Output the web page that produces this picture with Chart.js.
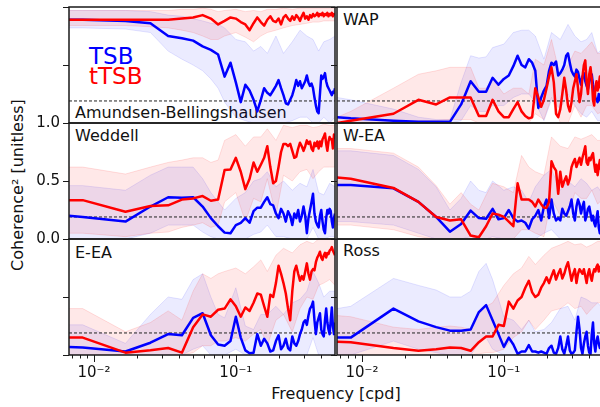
<!DOCTYPE html>
<html>
<head>
<meta charset="utf-8">
<script src="https://cdn.jsdelivr.net/npm/chart.js@4.4.0/dist/chart.umd.min.js"></script>
<style>
  body { margin: 0; width: 600px; height: 407px; overflow: hidden; background: #fff; position: relative; font-family: "DejaVu Sans", sans-serif; }
  canvas { position: absolute; }
  .lbl { position: absolute; font-size: 16px; line-height: 1; color: #111; white-space: nowrap; }
  .leg { position: absolute; font-size: 23px; line-height: 1; white-space: nowrap; }
</style>
</head>
<body>

<div class="leg" style="left:89px; top:45px; color:#0000ff;">TSB</div>
<div class="leg" style="left:89px; top:65px; color:#ff0000;">tTSB</div>

<div class="lbl" style="left:75px; top:105px;">Amundsen-Bellingshausen</div>
<div class="lbl" style="left:343px; top:12px;">WAP</div>
<div class="lbl" style="left:75px; top:128px;">Weddell</div>
<div class="lbl" style="left:343px; top:128px;">W-EA</div>
<div class="lbl" style="left:75px; top:245px;">E-EA</div>
<div class="lbl" style="left:343px; top:243px;">Ross</div>

<div class="lbl" style="left:18px; top:185px; transform:translate(-50%,-50%) rotate(-90deg);">Coherence² [unitless]</div>
<div class="lbl" style="left:336px; top:386px; transform:translateX(-50%);">Frequency [cpd]</div>

<script>
// frequency grid of the lines and of the shaded bands (cpd)
const freq = [0.00667, 0.00833, 0.01667, 0.025, 0.03333, 0.04167, 0.05, 0.05833, 0.06667, 0.075, 0.08333,
  0.09167, 0.1, 0.10833, 0.11667, 0.125, 0.13333, 0.14167, 0.15, 0.15833, 0.16667,
  0.175, 0.18333, 0.19167, 0.2, 0.20833, 0.21667, 0.225, 0.23333, 0.24167, 0.25,
  0.25833, 0.26667, 0.275, 0.28333, 0.29167, 0.3, 0.30833, 0.31667, 0.325, 0.33333,
  0.34167, 0.35, 0.35833, 0.36667, 0.375, 0.38333, 0.39167, 0.4, 0.40833, 0.41667,
  0.425, 0.43333, 0.44167, 0.45, 0.45833, 0.46667, 0.475, 0.48333, 0.49167, 0.5];
const bandFreq = [0.00667, 0.00833, 0.01667, 0.025, 0.03333, 0.04167, 0.05, 0.05833, 0.06667, 0.075,
  0.08333, 0.1, 0.11667, 0.13333, 0.15, 0.16667, 0.19167, 0.21667, 0.25, 0.28333,
  0.31667, 0.35, 0.38333, 0.41667, 0.45833, 0.5];

const xMin = 1 / 150;
const xMax = 0.5;
const sigLevel = 0.19;
const yTicks = [0, 0.5, 1];
const xMajor = [0.01, 0.1];
const xMajorLabels = ["10⁻²", "10⁻¹"];
const xMinor = [0.007, 0.008, 0.009, 0.02, 0.03, 0.04, 0.05, 0.06, 0.07, 0.08, 0.09, 0.2, 0.3, 0.4];

// Amundsen-Bellingshausen
const abTSB = [0.89, 0.89, 0.88, 0.86, 0.75, 0.73, 0.71, 0.66, 0.63, 0.59, 0.40,
  0.52, 0.35, 0.18, 0.33, 0.28, 0.20, 0.10, 0.20, 0.30, 0.26,
  0.24, 0.28, 0.32, 0.37, 0.30, 0.24, 0.17, 0.16, 0.20, 0.24,
  0.30, 0.37, 0.32, 0.36, 0.30, 0.33, 0.36, 0.41, 0.35, 0.32,
  0.34, 0.30, 0.22, 0.15, 0.10, 0.085, 0.25, 0.41, 0.38, 0.40,
  0.43, 0.36, 0.32, 0.30, 0.28, 0.26, 0.24, 0.27, 0.26, 0.30];
const abTTSB = [0.89, 0.89, 0.89, 0.89, 0.89, 0.90, 0.91, 0.93, 0.90, 0.85, 0.88,
  0.91, 0.90, 0.87, 0.85, 0.80, 0.86, 0.91, 0.87, 0.84, 0.89,
  0.92, 0.88, 0.87, 0.90, 0.85, 0.91, 0.93, 0.90, 0.88, 0.92,
  0.89, 0.93, 0.91, 0.88, 0.92, 0.95, 0.90, 0.92, 0.89, 0.93,
  0.91, 0.94, 0.92, 0.93, 0.95, 0.92, 0.94, 0.93, 0.95, 0.92,
  0.94, 0.93, 0.95, 0.92, 0.94, 0.93, 0.95, 0.92, 0.94, 0.93];
const abTSBhi = [0.97, 0.97, 0.97, 0.96, 0.93, 0.92, 0.90, 0.88, 0.86, 0.85, 0.82, 0.72, 0.70, 0.62, 0.66, 0.60, 0.75, 0.60, 0.70, 0.80, 0.75, 0.72, 0.62, 0.70, 0.72, 0.75];
const abTSBlo = [0.82, 0.82, 0.81, 0.78, 0.62, 0.55, 0.50, 0.45, 0.38, 0.30, 0.18, 0.05, 0.02, 0, 0, 0, 0, 0, 0.02, 0.05, 0.05, 0, 0, 0.05, 0, 0.05];
const abTTSBhi = [0.97, 0.97, 0.97, 0.97, 0.97, 0.98, 0.98, 0.99, 0.98, 0.96, 0.97, 0.98, 0.96, 0.97, 0.96, 0.98, 0.98, 0.99, 0.98, 0.99, 0.99, 0.99, 0.99, 0.99, 0.99, 0.99];
const abTTSBlo = [0.84, 0.84, 0.84, 0.83, 0.82, 0.80, 0.78, 0.75, 0.72, 0.72, 0.75, 0.78, 0.74, 0.70, 0.75, 0.78, 0.80, 0.82, 0.84, 0.85, 0.86, 0.87, 0.87, 0.88, 0.88, 0.88];

// WAP
const wapTSB = [0.05, 0.04, 0.02, 0.01, 0.01, 0.01, 0.16, 0.36, 0.27, 0.27, 0.39,
  0.33, 0.38, 0.41, 0.49, 0.58, 0.50, 0.48, 0.55, 0.52, 0.45,
  0.13, 0.22, 0.28, 0.32, 0.45, 0.52, 0.50, 0.53, 0.41, 0.43,
  0.46, 0.50, 0.58, 0.60, 0.52, 0.45, 0.42, 0.40, 0.46, 0.44,
  0.38, 0.33, 0.40, 0.43, 0.36, 0.32, 0.29, 0.35, 0.40, 0.42,
  0.33, 0.27, 0.22, 0.20, 0.18, 0.25, 0.20, 0.22, 0.18, 0.20];
const wapTTSB = [0.00, 0.02, 0.08, 0.20, 0.16, 0.22, 0.22, 0.22, 0.06, 0.06, 0.20,
  0.10, 0.05, 0.05, 0.12, 0.18, 0.10, 0.06, 0.04, 0.05, 0.30,
  0.22, 0.14, 0.20, 0.30, 0.40, 0.48, 0.35, 0.08, 0.05, 0.12,
  0.25, 0.39, 0.28, 0.15, 0.10, 0.18, 0.30, 0.36, 0.42, 0.30,
  0.18, 0.25, 0.40, 0.50, 0.54, 0.35, 0.25, 0.42, 0.48, 0.38,
  0.20, 0.15, 0.30, 0.36, 0.28, 0.32, 0.40, 0.30, 0.35, 0.30];
const wapTSBhi = [0.22, 0.20, 0.12, 0.05, 0.03, 0.03, 0.35, 0.58, 0.56, 0.57, 0.65, 0.68, 0.78, 0.80, 0.80, 0.75, 0.55, 0.78, 0.72, 0.85, 0.75, 0.70, 0.72, 0.78, 0.60, 0.65];
const wapTSBlo = [0, 0, 0, 0, 0, 0, 0.02, 0.15, 0.10, 0.10, 0.15, 0.15, 0.22, 0.25, 0.25, 0.18, 0.02, 0.20, 0.12, 0.25, 0.15, 0.08, 0.05, 0.10, 0.02, 0.02];
const wapTTSBhi = [0.05, 0.10, 0.30, 0.42, 0.45, 0.48, 0.48, 0.48, 0.30, 0.30, 0.38, 0.25, 0.30, 0.30, 0.25, 0.55, 0.50, 0.72, 0.40, 0.50, 0.62, 0.60, 0.65, 0.70, 0.60, 0.60];
const wapTTSBlo = [0, 0, 0, 0.02, 0.02, 0.03, 0.03, 0.03, 0, 0, 0, 0, 0, 0, 0, 0.08, 0.03, 0.22, 0, 0, 0.15, 0.05, 0.15, 0.15, 0.08, 0.10];

// Weddell
const wedTSB = [0.20, 0.19, 0.15, 0.28, 0.36, 0.355, 0.36, 0.28, 0.18, 0.11, 0.055,
  0.05, 0.12, 0.14, 0.18, 0.14, 0.24, 0.27, 0.27, 0.32, 0.36,
  0.30, 0.29, 0.22, 0.18, 0.26, 0.22, 0.15, 0.24, 0.20, 0.12,
  0.22, 0.18, 0.25, 0.15, 0.20, 0.28, 0.20, 0.05, 0.18, 0.25,
  0.32, 0.39, 0.22, 0.15, 0.12, 0.10, 0.20, 0.25, 0.15, 0.08,
  0.05, 0.18, 0.25, 0.22, 0.26, 0.24, 0.15, 0.10, 0.18, 0.22];
const wedTTSB = [0.335, 0.335, 0.235, 0.285, 0.29, 0.34, 0.35, 0.37, 0.33, 0.34, 0.595,
  0.60, 0.70, 0.58, 0.43, 0.52, 0.66, 0.58, 0.64, 0.70, 0.80,
  0.62, 0.48, 0.50, 0.62, 0.75, 0.82, 0.82, 0.80, 0.82, 0.76,
  0.70, 0.71, 0.78, 0.83, 0.80, 0.76, 0.80, 0.85, 0.82, 0.84,
  0.78, 0.76, 0.83, 0.80, 0.84, 0.78, 0.84, 0.80, 0.86, 0.88,
  0.91, 0.82, 0.76, 0.84, 0.88, 0.86, 0.86, 0.78, 0.90, 0.86];
const wedTSBhi = [0.46, 0.46, 0.42, 0.55, 0.62, 0.62, 0.62, 0.52, 0.40, 0.32, 0.25, 0.35, 0.40, 0.50, 0.52, 0.58, 0.45, 0.50, 0.42, 0.48, 0.45, 0.60, 0.40, 0.38, 0.48, 0.45];
const wedTSBlo = [0, 0, 0, 0.05, 0.12, 0.12, 0.12, 0.06, 0.02, 0, 0, 0, 0, 0.04, 0.06, 0.12, 0.02, 0.02, 0, 0, 0, 0.10, 0, 0, 0.02, 0.02];
const wedTTSBhi = [0.62, 0.62, 0.56, 0.62, 0.66, 0.68, 0.70, 0.70, 0.66, 0.68, 0.85, 0.90, 0.80, 0.88, 0.88, 0.95, 0.85, 0.98, 0.96, 0.98, 0.98, 0.96, 0.97, 0.99, 0.98, 0.98];
const wedTTSBlo = [0.05, 0.05, 0.02, 0.05, 0.06, 0.10, 0.12, 0.14, 0.10, 0.12, 0.32, 0.40, 0.15, 0.35, 0.32, 0.52, 0.20, 0.55, 0.50, 0.58, 0.60, 0.52, 0.58, 0.62, 0.62, 0.62];

// W-EA
const weaTSB = [0.466, 0.466, 0.437, 0.32, 0.19, 0.063, 0.13, 0.245, 0.18, 0.175, 0.26,
  0.17, 0.18, 0.25, 0.18, 0.15, 0.16, 0.14, 0.09, 0.17, 0.20,
  0.25, 0.16, 0.28, 0.34, 0.18, 0.34, 0.22, 0.16, 0.18, 0.16,
  0.26, 0.22, 0.20, 0.24, 0.28, 0.34, 0.22, 0.16, 0.28, 0.34,
  0.30, 0.22, 0.28, 0.32, 0.16, 0.20, 0.26, 0.28, 0.22, 0.16,
  0.20, 0.14, 0.11, 0.18, 0.24, 0.10, 0.05, 0.12, 0.10, 0.15];
const weaTTSB = [0.53, 0.52, 0.44, 0.32, 0.19, 0.16, 0.17, 0.03, 0.015, 0.11, 0.22,
  0.21, 0.19, 0.15, 0.11, 0.48, 0.34, 0.34, 0.34, 0.32, 0.28,
  0.34, 0.30, 0.27, 0.27, 0.32, 0.67, 0.62, 0.59, 0.39, 0.58,
  0.45, 0.50, 0.54, 0.47, 0.52, 0.62, 0.66, 0.69, 0.62, 0.66,
  0.70, 0.64, 0.70, 0.75, 0.80, 0.66, 0.64, 0.70, 0.68, 0.72,
  0.74, 0.65, 0.58, 0.64, 0.55, 0.62, 0.68, 0.60, 0.64, 0.62];
const weaTSBhi = [0.76, 0.76, 0.72, 0.60, 0.45, 0.25, 0.35, 0.50, 0.42, 0.40, 0.50, 0.42, 0.45, 0.42, 0.32, 0.45, 0.55, 0.60, 0.42, 0.50, 0.45, 0.52, 0.48, 0.42, 0.45, 0.38];
const weaTSBlo = [0.15, 0.15, 0.12, 0.05, 0, 0, 0, 0.02, 0, 0, 0.02, 0, 0, 0, 0, 0, 0.05, 0.08, 0, 0, 0, 0, 0, 0, 0, 0];
const weaTTSBhi = [0.78, 0.78, 0.74, 0.62, 0.46, 0.30, 0.40, 0.30, 0.25, 0.38, 0.48, 0.45, 0.40, 0.72, 0.62, 0.58, 0.55, 0.88, 0.80, 0.78, 0.88, 0.86, 0.88, 0.90, 0.85, 0.85];
const weaTTSBlo = [0.12, 0.12, 0.08, 0.02, 0, 0, 0, 0, 0, 0, 0, 0, 0, 0.08, 0.08, 0.05, 0.02, 0.35, 0.20, 0.20, 0.40, 0.35, 0.35, 0.42, 0.30, 0.35];

// E-EA
const eeaTSB = [0.07, 0.065, 0.03, 0.106, 0.18, 0.17, 0.32, 0.36, 0.17, 0.09, 0.08,
  0.12, 0.33, 0.15, 0.04, 0.015, 0.02, 0.18, 0.08, 0.14, 0.10,
  0.03, 0.04, 0.12, 0.17, 0.05, 0.08, 0.14, 0.06, 0.04, 0.16,
  0.10, 0.08, 0.12, 0.18, 0.22, 0.28, 0.30, 0.26, 0.34, 0.40,
  0.42, 0.46, 0.30, 0.18, 0.28, 0.32, 0.36, 0.22, 0.18, 0.16,
  0.30, 0.40, 0.28, 0.22, 0.18, 0.30, 0.41, 0.25, 0.18, 0.28];
const eeaTTSB = [0.15, 0.15, 0.02, 0.04, 0.06, 0.02, 0.24, 0.35, 0.33, 0.39, 0.40,
  0.48, 0.42, 0.33, 0.41, 0.38, 0.45, 0.53, 0.52, 0.42, 0.33,
  0.52, 0.50, 0.62, 0.77, 0.70, 0.62, 0.53, 0.40, 0.30, 0.55,
  0.72, 0.77, 0.70, 0.64, 0.68, 0.65, 0.72, 0.79, 0.70, 0.65,
  0.72, 0.74, 0.73, 0.80, 0.84, 0.86, 0.89, 0.84, 0.82, 0.86,
  0.88, 0.84, 0.88, 0.87, 0.90, 0.91, 0.93, 0.90, 0.88, 0.86];
const eeaTSBhi = [0.26, 0.26, 0.10, 0.35, 0.50, 0.48, 0.65, 0.70, 0.50, 0.35, 0.32, 0.58, 0.25, 0.22, 0.35, 0.35, 0.42, 0.35, 0.45, 0.48, 0.55, 0.72, 0.62, 0.50, 0.55, 0.55];
const eeaTSBlo = [0, 0, 0, 0, 0, 0, 0.05, 0.08, 0, 0, 0, 0.05, 0, 0, 0, 0, 0, 0, 0, 0, 0, 0.15, 0, 0, 0, 0];
const eeaTTSBhi = [0.40, 0.40, 0.20, 0.28, 0.38, 0.30, 0.55, 0.70, 0.66, 0.70, 0.72, 0.75, 0.70, 0.76, 0.82, 0.72, 0.86, 0.92, 0.88, 0.95, 0.98, 0.96, 1.0, 1.0, 1.0, 1.0];
const eeaTTSBlo = [0, 0, 0, 0, 0, 0, 0.02, 0.08, 0.08, 0.12, 0.12, 0.15, 0.12, 0.18, 0.22, 0.08, 0.30, 0.35, 0.20, 0.40, 0.50, 0.48, 0.60, 0.62, 0.65, 0.60];

// Ross
const rossTSB = [0.15, 0.15, 0.40, 0.29, 0.24, 0.21, 0.21, 0.22, 0.37, 0.43, 0.30,
  0.18, 0.07, 0.15, 0.09, 0.01, 0.03, 0.03, 0.085, 0.03, 0.03,
  0.02, 0.03, 0.02, 0.01, 0.06, 0.08, 0.02, 0.01, 0.06, 0.16,
  0.05, 0.01, 0.08, 0.16, 0.04, 0.01, 0.02, 0.04, 0.20, 0.33,
  0.22, 0.06, 0.01, 0.10, 0.16, 0.20, 0.08, 0.02, 0.01, 0.18,
  0.28, 0.10, 0.03, 0.12, 0.16, 0.10, 0.06, 0.10, 0.08, 0.10];
const rossTTSB = [0.115, 0.11, 0.06, 0.036, 0.05, 0.065, 0.06, 0.036, 0.11, 0.16, 0.16,
  0.26, 0.25, 0.46, 0.40, 0.47, 0.50, 0.58, 0.64, 0.54, 0.50,
  0.52, 0.58, 0.62, 0.67, 0.62, 0.68, 0.73, 0.65, 0.70, 0.74,
  0.66, 0.70, 0.76, 0.80, 0.72, 0.64, 0.70, 0.74, 0.62, 0.70,
  0.74, 0.72, 0.70, 0.74, 0.68, 0.62, 0.70, 0.74, 0.68, 0.64,
  0.70, 0.74, 0.72, 0.76, 0.78, 0.72, 0.76, 0.74, 0.78, 0.76];
const rossTSBhi = [0.40, 0.42, 0.66, 0.60, 0.56, 0.50, 0.50, 0.55, 0.72, 0.79, 0.65, 0.33, 0.30, 0.22, 0.30, 0.20, 0.22, 0.28, 0.40, 0.42, 0.30, 0.50, 0.48, 0.45, 0.45, 0.40];
const rossTSBlo = [0, 0, 0.12, 0.05, 0.02, 0, 0, 0, 0.10, 0.15, 0.05, 0, 0, 0, 0, 0, 0, 0, 0, 0, 0, 0, 0, 0, 0, 0];
const rossTTSBhi = [0.34, 0.33, 0.24, 0.22, 0.24, 0.25, 0.24, 0.22, 0.36, 0.42, 0.45, 0.60, 0.70, 0.75, 0.85, 0.78, 0.86, 0.92, 0.95, 0.98, 0.95, 0.96, 0.93, 0.95, 0.98, 0.98];
const rossTTSBlo = [0, 0, 0, 0, 0, 0, 0, 0, 0.01, 0.02, 0.02, 0.05, 0.15, 0.20, 0.30, 0.22, 0.30, 0.38, 0.40, 0.45, 0.40, 0.42, 0.35, 0.40, 0.45, 0.45];

const panels = [
  { name: "Amundsen-Bellingshausen", col: 0, row: 0, tsb: abTSB, ttsb: abTTSB, tsbHi: abTSBhi, tsbLo: abTSBlo, ttsbHi: abTTSBhi, ttsbLo: abTTSBlo },
  { name: "WAP", col: 1, row: 0, tsb: wapTSB, ttsb: wapTTSB, tsbHi: wapTSBhi, tsbLo: wapTSBlo, ttsbHi: wapTTSBhi, ttsbLo: wapTTSBlo },
  { name: "Weddell", col: 0, row: 1, tsb: wedTSB, ttsb: wedTTSB, tsbHi: wedTSBhi, tsbLo: wedTSBlo, ttsbHi: wedTTSBhi, ttsbLo: wedTTSBlo },
  { name: "W-EA", col: 1, row: 1, tsb: weaTSB, ttsb: weaTTSB, tsbHi: weaTSBhi, tsbLo: weaTSBlo, ttsbHi: weaTTSBhi, ttsbLo: weaTTSBlo },
  { name: "E-EA", col: 0, row: 2, tsb: eeaTSB, ttsb: eeaTTSB, tsbHi: eeaTSBhi, tsbLo: eeaTSBlo, ttsbHi: eeaTTSBhi, ttsbLo: eeaTTSBlo },
  { name: "Ross", col: 1, row: 2, tsb: rossTSB, ttsb: rossTTSB, tsbHi: rossTSBhi, tsbLo: rossTSBlo, ttsbHi: rossTTSBhi, ttsbLo: rossTTSBlo }
];

// panel layout (px)
const colLeft = [69, 337];
const rowTop = [7, 123, 239];
const panelW = 266;
const panelH = 116;
const M_LEFT = 60, M_PAD = 24, M_BOTTOM = 45;

Chart.defaults.font.family = "DejaVu Sans";
Chart.defaults.font.size = 15;
Chart.defaults.color = "#111";

// frame around each panel plus matplotlib style tick marks
const framePlugin = {
  id: "frame",
  afterDraw(chart, args, opts) {
    const { ctx, chartArea: a, scales } = chart;
    ctx.save();
    ctx.strokeStyle = "#1a1a1a";
    ctx.lineWidth = 1;
    ctx.beginPath();
    yTicks.forEach(v => {
      const py = Math.round(scales.y.getPixelForValue(v)) + 0.5;
      ctx.moveTo(a.left - 6, py);
      ctx.lineTo(a.left, py);
    });
    if (opts.bottom) {
      xMajor.forEach(v => {
        const px = Math.round(scales.x.getPixelForValue(v)) + 0.5;
        ctx.moveTo(px, a.bottom);
        ctx.lineTo(px, a.bottom + 7);
      });
      xMinor.forEach(v => {
        const px = Math.round(scales.x.getPixelForValue(v)) + 0.5;
        ctx.moveTo(px, a.bottom);
        ctx.lineTo(px, a.bottom + 3.5);
      });
    }
    ctx.stroke();
    ctx.lineWidth = 1.5;
    ctx.strokeRect(a.left, a.top, a.right - a.left, a.bottom - a.top);
    ctx.restore();
  }
};

const pts = (xs, ys) => xs.map((x, i) => ({ x: x, y: ys[i] }));

const redFill = "rgba(255, 0, 0, 0.09)";
const redEdge = "rgba(255, 0, 0, 0.12)";
const blueFill = "rgba(0, 0, 255, 0.08)";
const blueEdge = "rgba(0, 0, 255, 0.11)";

panels.forEach(p => {

  const bottom = p.row === 2;
  const showY = p.name === "Weddell";

  const cv = document.createElement("canvas");
  cv.width = M_LEFT + panelW + M_PAD;
  cv.height = M_PAD + panelH + (bottom ? M_BOTTOM : M_PAD);
  cv.style.left = (colLeft[p.col] - M_LEFT) + "px";
  cv.style.top = (rowTop[p.row] - M_PAD) + "px";
  document.body.appendChild(cv);

  new Chart(cv, {
    type: "line",
    data: {
      datasets: [
        { data: pts(freq, p.ttsb), borderColor: "#ff0000", borderWidth: 2.5 },
        { data: pts(freq, p.tsb), borderColor: "#0000ff", borderWidth: 2.5 },
        { data: [{ x: xMin, y: sigLevel }, { x: xMax, y: sigLevel }], borderColor: "#222", borderWidth: 1, borderDash: [3, 2] },
        { data: pts(bandFreq, p.ttsbHi), borderColor: redEdge, borderWidth: 1, fill: "+1", backgroundColor: redFill },
        { data: pts(bandFreq, p.ttsbLo), borderColor: redEdge, borderWidth: 1 },
        { data: pts(bandFreq, p.tsbHi), borderColor: blueEdge, borderWidth: 1, fill: "+1", backgroundColor: blueFill },
        { data: pts(bandFreq, p.tsbLo), borderColor: blueEdge, borderWidth: 1 }
      ]
    },
    options: {
      responsive: false,
      animation: false,
      devicePixelRatio: 1,
      layout: { padding: { left: 0, right: M_PAD, top: M_PAD, bottom: bottom ? 0 : M_PAD } },
      elements: {
        point: { radius: 0 },
        line: { tension: 0, fill: false, borderJoinStyle: "round" }
      },
      plugins: {
        legend: { display: false },
        tooltip: { enabled: false },
        frame: { bottom: bottom }
      },
      scales: {
        x: {
          type: "logarithmic",
          min: xMin,
          max: xMax,
          grid: { display: false, drawTicks: false },
          border: { display: false },
          afterBuildTicks: s => { s.ticks = xMajor.map(v => ({ value: v, major: true })); },
          afterFit: s => { s.height = bottom ? M_BOTTOM : 0; },
          ticks: {
            display: bottom,
            autoSkip: false,
            maxRotation: 0,
            padding: 9,
            callback: (v, i) => xMajorLabels[i]
          }
        },
        y: {
          min: 0,
          max: 1,
          grid: { display: false, drawTicks: false },
          border: { display: false },
          afterBuildTicks: s => { s.ticks = yTicks.map(v => ({ value: v })); },
          afterFit: s => { s.width = M_LEFT; },
          ticks: {
            display: showY,
            padding: 9,
            callback: v => Number(v).toFixed(1)
          }
        }
      }
    },
    plugins: [framePlugin]
  });

});
</script>
</body>
</html>
